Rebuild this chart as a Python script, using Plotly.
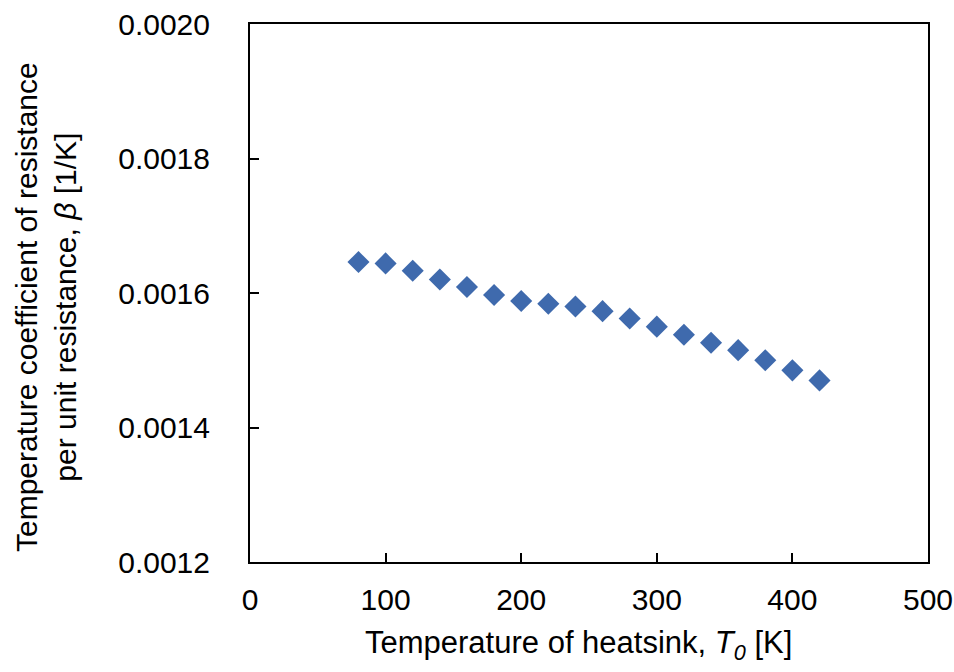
import plotly.graph_objects as go

temperature_K = [80, 100, 120, 140, 160, 180, 200, 220, 240, 260, 280, 300, 320, 340, 360, 380, 400, 420]
beta_per_K = [0.001646, 0.001644, 0.001633, 0.001620, 0.001609, 0.001597, 0.001588, 0.001584, 0.001580,
              0.001573, 0.001562, 0.001550, 0.001538, 0.001526, 0.001515, 0.001500, 0.001485, 0.001470]

FONT = "Arial, Liberation Sans, sans-serif"
W, H = 954, 672
L, R, T, B = 250, 26, 24, 110
PW, PH = W - L - R, H - T - B

fig = go.Figure(go.Scatter(
    x=temperature_K, y=beta_per_K, mode="markers",
    marker=dict(symbol="diamond", size=17, color="#3F6AAD", line=dict(width=0)),
))

fig.update_layout(
    width=W, height=H,
    margin=dict(l=L, r=R, t=T, b=B),
    paper_bgcolor="white", plot_bgcolor="white",
    font=dict(family=FONT, size=30, color="black"),
    showlegend=False,
)
fig.update_xaxes(
    range=[0, 500], dtick=100, tick0=0, automargin=False,
    showline=True, linecolor="black", linewidth=2, mirror=True,
    ticks="inside", ticklen=9, tickwidth=1.5, tickcolor="black",
    showgrid=False, zeroline=False,
    ticklabelstandoff=10,
)
fig.update_yaxes(
    range=[0.0012, 0.0020], dtick=0.0002, tick0=0.0012, tickformat=".4f", automargin=False,
    showline=True, linecolor="black", linewidth=2, mirror=True,
    ticks="inside", ticklen=9, tickwidth=1.5, tickcolor="black",
    showgrid=False, zeroline=False,
    ticklabelstandoff=32,
)

def px_x(p):
    return (p - L) / PW

def px_y(p):
    return 1 - (p - T) / PH

fig.add_annotation(
    text="Temperature of heatsink, <i>T</i><sub><i>0</i></sub> [K]",
    xref="paper", yref="paper", x=px_x(578), y=px_y(645),
    xanchor="center", yanchor="middle", showarrow=False,
    font=dict(family=FONT, size=31, color="black"),
)
fig.add_annotation(
    text="Temperature coefficient of resistance<br>per unit resistance, <i>β</i> [1/K]",
    xref="paper", yref="paper", x=px_x(46), y=px_y(307),
    xanchor="center", yanchor="middle", showarrow=False, textangle=-90,
    font=dict(family=FONT, size=30, color="black"),
)

fig.write_html("out.html")
